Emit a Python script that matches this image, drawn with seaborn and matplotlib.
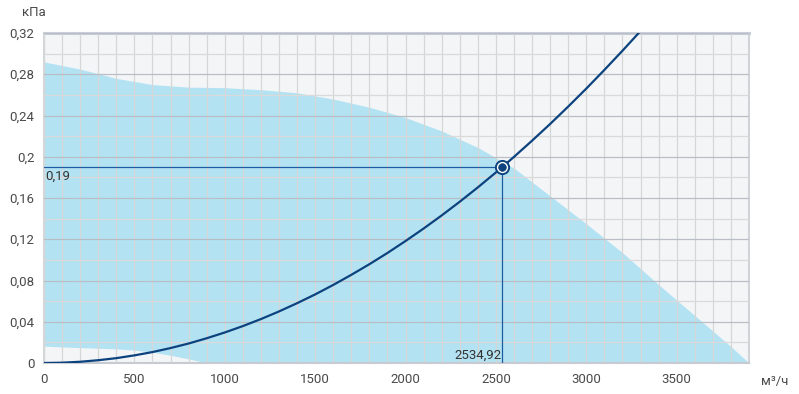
import numpy as np
import pandas as pd
import matplotlib.pyplot as plt
from matplotlib.ticker import MultipleLocator
import seaborn as sns

# рабочая область вентилятора (верхняя граница)
area_x = [0, 200, 400, 600, 800, 1000, 1200, 1400, 1600, 1800, 2000, 2200, 2400,
          2600, 2800, 3000, 3200, 3400, 3600, 3800, 3900]
area_top = [0.292, 0.285, 0.276, 0.270, 0.2675, 0.267, 0.265, 0.262, 0.256, 0.248, 0.238,
            0.225, 0.209, 0.189, 0.162, 0.135, 0.107, 0.076, 0.046, 0.016, 0.0]
# нижняя граница области
low_x = [0, 100, 200, 300, 400, 500, 600, 700, 800, 900]
low_y = [0.0163, 0.0156, 0.0149, 0.0143, 0.0137, 0.0125, 0.0105, 0.0075, 0.0040, 0.0]

# характеристика сети
net_x = [0, 100, 200, 300, 400, 500, 600, 700, 800, 900, 1000, 1100, 1200, 1300, 1400,
         1500, 1600, 1700, 1800, 1900, 2000, 2100, 2200, 2300, 2400, 2500, 2534.92,
         2600, 2700, 2800, 2900, 3000, 3100, 3200, 3290]
net_y = [0.0, 0.0003, 0.0012, 0.0027, 0.0047, 0.0074, 0.0106, 0.0145, 0.0189, 0.0240,
         0.0296, 0.0358, 0.0426, 0.0500, 0.0580, 0.0665, 0.0757, 0.0855, 0.0958, 0.1067,
         0.1183, 0.1304, 0.1431, 0.1564, 0.1703, 0.1848, 0.19, 0.1999, 0.2156, 0.2318,
         0.2487, 0.2661, 0.2842, 0.3028, 0.32]

# рабочая точка
op_x = 2534.92
op_y = 0.19

x_ticks = [0, 500, 1000, 1500, 2000, 2500, 3000, 3500]
y_ticks = [0, 0.04, 0.08, 0.12, 0.16, 0.2, 0.24, 0.28, 0.32]
y_labels = ['0', '0,04', '0,08', '0,12', '0,16', '0,2', '0,24', '0,28', '0,32']

sns.set_style('white')
plt.rcParams['font.family'] = ['Roboto', 'DejaVu Sans']

blue = '#0c437f'
fill_c = '#b3e3f3'
bg = '#f4f5f7'

fig = plt.figure(figsize=(7.99, 3.94), dpi=100)
ax = fig.add_axes([44 / 799, 31 / 394, 705 / 799, 330 / 394])
ax.set_facecolor(bg)

ax.fill_between(area_x, 0, area_top, color=fill_c, lw=0, zorder=1)
ax.fill_between(low_x, 0, low_y, color=bg, lw=0, zorder=1.1)

df = pd.DataFrame({'q': net_x, 'p': net_y})
sns.lineplot(data=df, x='q', y='p', color=blue, lw=1.6, ax=ax, zorder=4)

ax.plot([0, op_x], [op_y, op_y], color='#1d5ca3', lw=0.9, zorder=3.5)
ax.plot([op_x, op_x], [0, op_y], color='#1d5ca3', lw=0.9, zorder=3.5)
ax.plot([op_x], [op_y], 'o', ms=9.5, mfc='white', mec=blue, mew=1.4, zorder=5)
ax.plot([op_x], [op_y], 'o', ms=5.5, mfc=blue, mec=blue, mew=0.5, zorder=6)

ax.text(8, op_y - 0.003, '0,19', ha='left', va='top', fontsize=9.5, color='#333333', zorder=6)
ax.text(op_x - 5, 0.0015, '2534,92', ha='right', va='bottom', fontsize=9.5,
        color='#333333', zorder=6)

ax.set_xlim(0, 3900)
ax.set_ylim(0, 0.32)
ax.set_xticks(x_ticks)
ax.set_xticklabels([str(v) for v in x_ticks])
ax.set_yticks(y_ticks)
ax.set_yticklabels(y_labels)
ax.xaxis.set_minor_locator(MultipleLocator(100))
ax.yaxis.set_minor_locator(MultipleLocator(0.02))

ax.set_axisbelow(False)
ax.grid(which='major', axis='y', color='#b9bec6', lw=0.9, zorder=2.5)
ax.grid(which='minor', axis='y', color='#dadada', lw=0.9, zorder=2.5)
ax.grid(which='both', axis='x', color='#d6d6d6', lw=0.9, zorder=2.5)

ax.tick_params(axis='both', which='major', labelsize=9.5, labelcolor='#4a4a4a',
               color='#b9bec6', width=1, length=4)
ax.tick_params(axis='x', which='minor', length=0)
ax.tick_params(axis='y', which='minor', length=0)
ax.tick_params(axis='y', pad=3)

ax.set_xlabel('')
ax.set_ylabel('')

for side, w, c in [('top', 2.2, '#c8cfd8'), ('right', 1.5, '#d0d4d8'),
                   ('left', 1.5, '#d3d6da'), ('bottom', 1.5, '#c8ccd2')]:
    ax.spines[side].set_visible(True)
    ax.spines[side].set_linewidth(w)
    ax.spines[side].set_color(c)

fig.text(22 / 799, 1 - 13 / 394, 'кПа', ha='left', va='center', fontsize=9.5, color='#4a4a4a')
fig.text(775 / 799, 1 - 382 / 394, 'м³/ч', ha='center', va='center', fontsize=9.5, color='#4a4a4a')

plt.savefig('out.png', dpi=100)
